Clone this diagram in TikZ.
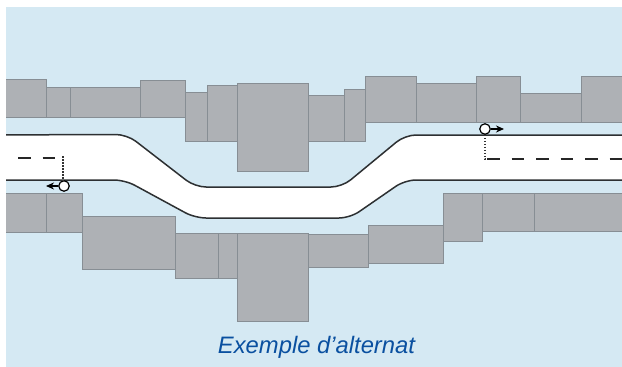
\documentclass[tikz,border=0pt]{standalone}
\usepackage{xcolor}
\usepackage{fontspec}
\setmainfont{Liberation Sans}
\usepackage{tikz}
\definecolor{skyBlue}{RGB}{213, 233, 243}
\definecolor{blockGrey}{RGB}{174, 177, 181}
\definecolor{blockEdge}{RGB}{135, 142, 148}
\definecolor{roadEdge}{RGB}{45, 48, 50}
\definecolor{titleBlue}{RGB}{10, 80, 160}
\usetikzlibrary{arrows.meta, positioning}

\begin{document}
\begin{tikzpicture}[
    x=1pt, y=-1pt,
    block/.style={draw=blockEdge, fill=blockGrey, line width=1pt},
    roadline/.style={draw=roadEdge, line width=1.5pt, rounded corners=11pt},
    laneline/.style={black!85, line width=2pt, dash pattern=on 12.5pt off 12pt},
    leader/.style={black!80, line width=1.7pt, dash pattern=on 1.5pt off 1.5pt},
    signal/.style={circle, draw=black, fill=white, line width=1.2pt, inner sep=0pt, minimum size=10.5pt},
    arrow/.style={-{Stealth[length=8pt, width=7pt]}, black, line width=1.2pt}
]
    \useasboundingbox (0,0) rectangle (622,367);
    \fill[skyBlue] (6,7) rectangle (622,367);

    \begin{scope}
        \clip (6,7) rectangle (622,367);
        % upper row of houses
        \foreach \xa/\ya/\xb/\yb in {-5/79/46.5/117.5, 46.5/87/70/117.5, 70/87/140/117.5, 140/80/185/117.5,
            185/92/207/141, 207/85/237/141, 308/95/344/141, 344/89/365/141, 237/83/308/171,
            365/76/416/122, 416/83/476.5/122, 520.5/93/581/122, 476.5/76/520.5/122, 581/76/630/122}
            \draw[block] (\xa,\ya) rectangle (\xb,\yb);

        % lower row of houses
        \foreach \xa/\ya/\xb/\yb in {-5/193/46.5/232, 46.5/193/82/232, 82/216/175/269, 175/233/218/278.5,
            218/233/237/278.5, 308/234/368/267, 237/233/308/321, 368/225/443/263.5,
            482/193/534.5/231, 534.5/193/630/231, 443/193/482/241}
            \draw[block] (\xa,\ya) rectangle (\xb,\yb);

        % road
        \fill[white, rounded corners=11pt] (-30,135) -- (127,134.5) -- (195,187) -- (342,187) -- (405,135) -- (660,135)
            -- (660,180) -- (405,180) -- (350,218) -- (195,218) -- (125,180) -- (-30,180) -- cycle;
        \draw[roadline] (-30,135) -- (127,134.5) -- (195,187) -- (342,187) -- (405,135) -- (660,135);
        \draw[roadline] (-30,180) -- (125,180) -- (195,218) -- (350,218) -- (405,180) -- (660,180);
    \end{scope}

    % lane markings
    \coordinate (laneLeftStart) at (18,158);
    \coordinate (laneLeftEnd) at (56,158);
    \coordinate (laneRightStart) at (487,159);
    \coordinate (laneRightEnd) at (622,159);
    \draw[laneline] (laneLeftStart) -- (laneLeftEnd);
    \draw[laneline] (laneRightStart) -- (laneRightEnd);

    % signals
    \node[signal] (signalLeft) at (64,186) {};
    \node[signal] (signalRight) at (485,129) {};
    \coordinate (tipLeft) at (46,186);
    \coordinate (tipRight) at (504,129);
    \coordinate (footLeft) at (63,156);
    \coordinate (footRight) at (485,159);
    \draw[arrow] (signalLeft) -- (tipLeft);
    \draw[arrow] (signalRight) -- (tipRight);
    \draw[leader] (footLeft) -- (footLeft |- signalLeft.north);
    \draw[leader] (signalRight.south) -- (footRight) -- (laneRightStart);

    \node[font=\fontsize{23.8}{28}\selectfont\itshape, color=titleBlue] (caption) at (316.5,347) {Exemple d’alternat};
\end{tikzpicture}
\end{document}
